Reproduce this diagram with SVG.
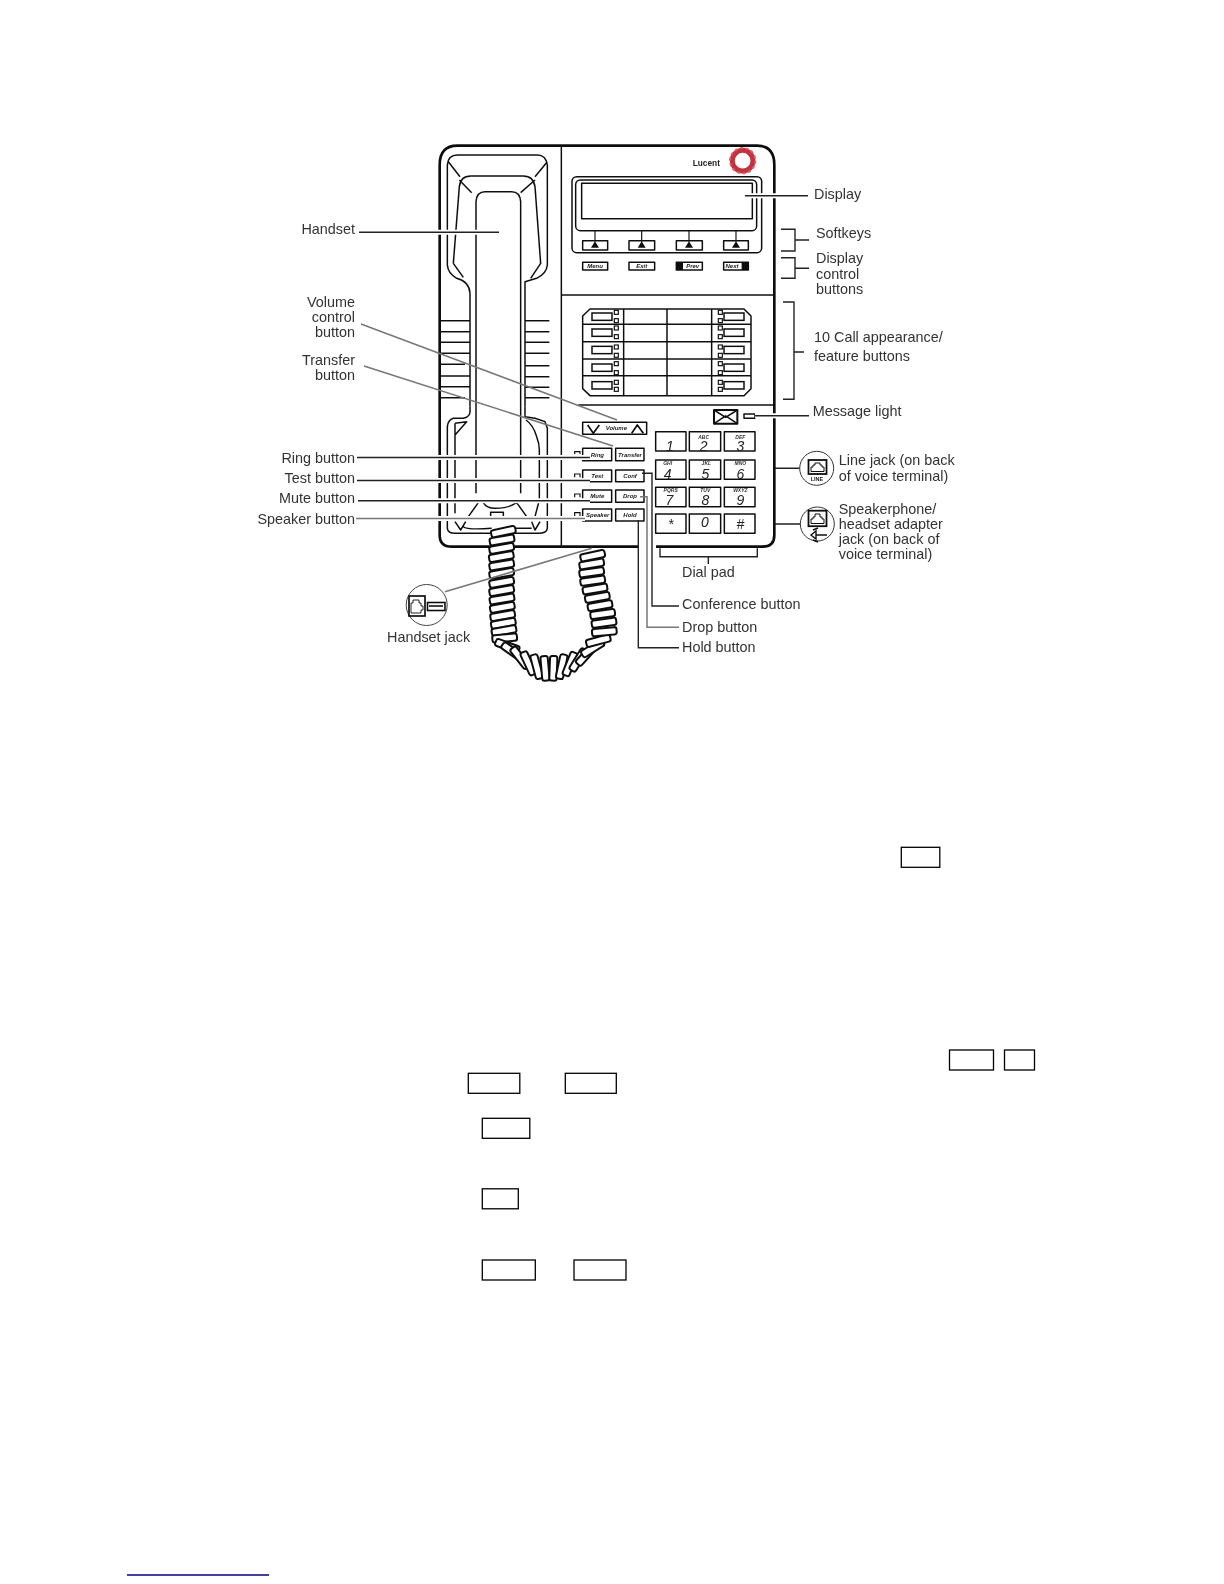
<svg xmlns="http://www.w3.org/2000/svg" width="1224" height="1584" viewBox="0 0 1224 1584">
<style>
.p{fill:none;stroke:#111;stroke-width:4.5;stroke-linejoin:round}
.t{fill:#fff;stroke:#111;stroke-width:4.5}
.s{fill:none;stroke:#111;stroke-width:3.5}
.w{fill:none;stroke:#111;stroke-width:8}
.k{fill:#111;stroke:none}
.btn{font:italic bold 18px "Liberation Sans",Arial,sans-serif;fill:#222;text-anchor:middle}
.dig{font:italic 42px "Liberation Sans",Arial,sans-serif;fill:#222;text-anchor:middle}
.alp{font:italic bold 15px "Liberation Sans",Arial,sans-serif;fill:#333;text-anchor:middle}
.l{font:14.4px "Liberation Sans",Arial,sans-serif;fill:#333}
.e{text-anchor:end}
.ld{fill:none;stroke:#222;stroke-width:1.4}
.lg{fill:none;stroke:#777;stroke-width:1.5}
.h{fill:none;stroke:#fff;stroke-width:5}
.box{fill:#fff;stroke:#000;stroke-width:1.3}
</style>
<defs>
<filter id="soft" filterUnits="userSpaceOnUse" x="0" y="0" width="1224" height="800"><feGaussianBlur stdDeviation="0.4"/></filter>
<rect id="r" x="-37" y="-11" width="74" height="22" rx="7" fill="#fff" stroke="#111" stroke-width="6"/>
<rect id="sq" class="s" x="0" y="0" width="12" height="12"/>
</defs>
<rect width="1224" height="1584" fill="#fff"/>
<g filter="url(#soft)">
<g id="phone" transform="translate(420 130) scale(.33333)">
<g id="body">
<path class="w" d="M59,105Q59,47 112,47H1012Q1063,47 1063,105V1215Q1063,1250 1028,1250H95Q59,1250 59,1215Z"/>
<path class="p" d="M424,47V1250M424,495H1060M475,825H1060"/>
</g>
<g id="handset">
<path class="p" d="M82,105Q84,75 112,75H352Q378,75 382,105V405Q380,430 350,445L315,455V830M82,105V405Q84,430 110,445Q148,455 150,490V830M85,95L120,140M382,95L345,140"/>
<path class="p" d="M100,400L118,170Q122,138 152,138H310Q340,138 345,170L362,400L332,445M100,400L130,442M118,150L155,188M345,150L302,188"/>
<path class="p" d="M168,1090V215Q170,185 195,185H275Q300,185 302,215V1090"/>
<path class="p" d="M60,572H150M60,605H150M60,637H150M60,670H150M60,703H135M60,738H150M60,770H150M60,803H135M315,572H388M315,605H388M315,637H388M315,670H388M315,707H388M315,740H388M315,772H388M315,803H388"/>
<path class="p" d="M150,830V845Q150,860 130,865H100Q84,870 82,890V1195Q84,1210 105,1210H210M105,915L140,875M105,880V1150M105,880L140,875L105,915"/>
<path class="p" d="M315,830V860Q345,862 375,875L382,895V1195Q380,1210 355,1210H250M318,870Q340,885 350,920Q358,940 358,960V1110L345,1160"/>
<path class="p" d="M105,1175L122,1200L137,1175M360,1175L345,1200L335,1175M145,1160L175,1118M290,1118L320,1160M190,1118Q200,1135 225,1135Q265,1135 290,1118M130,1190Q140,1200 215,1195M250,1195H335"/>
<path class="p" d="M212,1160V1147H250V1160"/>
</g>
<g id="logo">
<text x="818" y="109" style="font:bold 25px 'Liberation Sans',Arial,sans-serif;fill:#222">Lucent</text>
<circle cx="968" cy="92" r="31" fill="none" stroke="#c5303e" stroke-width="15"/>
<circle cx="968" cy="92" r="38" fill="none" stroke="#d8606a" stroke-width="6" stroke-dasharray="9 8"/>
</g>
<g id="display">
<rect class="p" x="456" y="140" width="569" height="228" rx="14"/>
<rect class="p" x="467" y="150" width="543" height="152" rx="14"/>
<rect class="p" x="485" y="160" width="512" height="106"/>
<path class="s" d="M525,302V335M665,302V335M807,302V335M948,302V335"/>
<rect class="p" x="488" y="332" width="75" height="28"/><rect class="p" x="627" y="332" width="77" height="28"/><rect class="p" x="769" y="332" width="78" height="28"/><rect class="p" x="911" y="332" width="74" height="28"/>
<path class="k" d="M525,334L537,353H513ZM665,334L677,353H653ZM807,334L819,353H795ZM948,334L960,353H936Z"/>
<rect class="p" x="488" y="397" width="75" height="23"/><rect class="p" x="627" y="397" width="77" height="23"/><rect class="p" x="769" y="397" width="78" height="23"/><rect class="p" x="911" y="397" width="74" height="23"/>
<rect class="k" x="769" y="397" width="20" height="23"/><rect class="k" x="965" y="397" width="20" height="23"/>
<text class="btn" x="525" y="414">Menu</text><text class="btn" x="665" y="414">Exit</text><text class="btn" x="818" y="414">Prev</text><text class="btn" x="936" y="414">Next</text>
</g>
<g id="call-buttons">
<path class="p" d="M510,537H972L993,558V776L972,797H510L488,776V558ZM488,583H993M488,635H993M488,687H993M488,737H993M611,537V797M741,537V797M875,537V797"/>
<rect class="t" x="516" y="549" width="60" height="22"/><rect class="t" x="516" y="597" width="60" height="22"/><rect class="t" x="516" y="649" width="60" height="22"/><rect class="t" x="516" y="702" width="60" height="22"/><rect class="t" x="516" y="755" width="60" height="22"/>
<rect class="t" x="912" y="549" width="60" height="22"/><rect class="t" x="912" y="597" width="60" height="22"/><rect class="t" x="912" y="649" width="60" height="22"/><rect class="t" x="912" y="702" width="60" height="22"/><rect class="t" x="912" y="755" width="60" height="22"/>
<use href="#sq" x="583" y="541"/><use href="#sq" x="583" y="566"/><use href="#sq" x="583" y="588"/><use href="#sq" x="583" y="614"/><use href="#sq" x="583" y="645"/><use href="#sq" x="583" y="670"/><use href="#sq" x="583" y="695"/><use href="#sq" x="583" y="722"/><use href="#sq" x="583" y="751"/><use href="#sq" x="583" y="772"/>
<use href="#sq" x="895" y="541"/><use href="#sq" x="895" y="566"/><use href="#sq" x="895" y="588"/><use href="#sq" x="895" y="614"/><use href="#sq" x="895" y="645"/><use href="#sq" x="895" y="670"/><use href="#sq" x="895" y="695"/><use href="#sq" x="895" y="722"/><use href="#sq" x="895" y="751"/><use href="#sq" x="895" y="772"/>
</g>
<g id="message-light">
<rect class="p" x="882" y="840" width="70" height="41" style="stroke-width:6"/>
<path class="p" d="M882,840L917,862L952,840M882,881L917,858L952,881"/>
<rect class="p" x="972" y="852" width="33" height="13"/>
</g>
<g id="feature-buttons">
<rect class="p" x="488" y="877" width="192" height="36"/>
<path class="p" d="M503,885L520,910L538,885M635,910L652,885L670,910" style="stroke-width:5"/>
<text class="btn" x="589" y="901">Volume</text>
<rect class="p" x="488" y="955" width="87" height="37"/><text class="btn" x="532" y="981">Ring</text>
<rect class="p" x="587" y="955" width="85" height="37"/><text class="btn" x="630" y="981">Transfer</text>
<rect class="p" x="488" y="1020" width="87" height="35"/><text class="btn" x="532" y="1045">Test</text>
<rect class="p" x="587" y="1020" width="85" height="35"/><text class="btn" x="630" y="1045">Conf</text>
<rect class="p" x="488" y="1080" width="87" height="37"/><text class="btn" x="532" y="1105">Mute</text>
<rect class="p" x="587" y="1080" width="85" height="37"/><text class="btn" x="630" y="1105">Drop</text>
<rect class="p" x="488" y="1137" width="87" height="36"/><text class="btn" x="533" y="1161">Speaker</text>
<rect class="p" x="587" y="1137" width="85" height="36"/><text class="btn" x="630" y="1161">Hold</text>
<path class="s" d="M464,972V965H480V972M464,1042V1032H480V1042M464,1102V1092H480V1102M464,1158V1148H480V1158"/>
</g>
<g id="dial-pad">
<rect class="p" x="707" y="905" width="91" height="58"/><rect class="p" x="808" y="905" width="94" height="58"/><rect class="p" x="913" y="905" width="92" height="58"/>
<rect class="p" x="707" y="990" width="91" height="58"/><rect class="p" x="808" y="990" width="94" height="58"/><rect class="p" x="913" y="990" width="92" height="58"/>
<rect class="p" x="707" y="1072" width="91" height="58"/><rect class="p" x="808" y="1072" width="94" height="58"/><rect class="p" x="913" y="1072" width="92" height="58"/>
<rect class="p" x="707" y="1152" width="91" height="58"/><rect class="p" x="808" y="1152" width="94" height="58"/><rect class="p" x="913" y="1152" width="92" height="58"/>
<text class="dig" x="750" y="963">1</text><text class="dig" x="851" y="963">2</text><text class="dig" x="961" y="963">3</text>
<text class="dig" x="743" y="1047">4</text><text class="dig" x="856" y="1047">5</text><text class="dig" x="961" y="1047">6</text>
<text class="dig" x="748" y="1124">7</text><text class="dig" x="856" y="1124">8</text><text class="dig" x="961" y="1124">9</text>
<text class="dig" x="752" y="1196">*</text><text class="dig" x="855" y="1192">0</text><text class="dig" x="961" y="1196">#</text>
<text class="alp" x="851" y="927">ABC</text><text class="alp" x="961" y="927">DEF</text>
<text class="alp" x="743" y="1005">GHI</text><text class="alp" x="859" y="1005">JKL</text><text class="alp" x="961" y="1005">MNO</text>
<text class="alp" x="752" y="1086">PQRS</text><text class="alp" x="856" y="1086">TUV</text><text class="alp" x="961" y="1086">WXYZ</text>
</g>
</g>
<g id="cord" transform="translate(420 390) scale(.33333)">
<use href="#r" transform="translate(250 425) rotate(-12)"/><use href="#r" transform="translate(246 450) rotate(-10)"/><use href="#r" transform="translate(245 475) rotate(-10)"/><use href="#r" transform="translate(244 500) rotate(-10)"/><use href="#r" transform="translate(245 525) rotate(-10)"/><use href="#r" transform="translate(245 550) rotate(-10)"/><use href="#r" transform="translate(245 577) rotate(-10)"/><use href="#r" transform="translate(245 602) rotate(-10)"/><use href="#r" transform="translate(246 627) rotate(-10)"/><use href="#r" transform="translate(247 652) rotate(-10)"/><use href="#r" transform="translate(248 677) rotate(-10)"/><use href="#r" transform="translate(250 700) rotate(-10)"/><use href="#r" transform="translate(252 722) rotate(-10)"/><use href="#r" transform="translate(254 744) rotate(-5)"/>
<use href="#r" transform="translate(262 768) rotate(20)"/><use href="#r" transform="translate(278 785) rotate(35)"/><use href="#r" transform="translate(300 803) rotate(52)"/><use href="#r" transform="translate(325 820) rotate(65)"/><use href="#r" transform="translate(350 830) rotate(75)"/><use href="#r" transform="translate(375 835) rotate(85)"/><use href="#r" transform="translate(400 835) rotate(-88)"/><use href="#r" transform="translate(425 830) rotate(-78)"/><use href="#r" transform="translate(450 822) rotate(-68)"/><use href="#r" transform="translate(475 810) rotate(-58)"/><use href="#r" transform="translate(498 795) rotate(-48)"/><use href="#r" transform="translate(518 775) rotate(-32)"/><use href="#r" transform="translate(535 752) rotate(-15)"/>
<use href="#r" transform="translate(553 725) rotate(-5)"/><use href="#r" transform="translate(552 698) rotate(-8)"/><use href="#r" transform="translate(548 672) rotate(-8)"/><use href="#r" transform="translate(540 647) rotate(-10)"/><use href="#r" transform="translate(532 622) rotate(-10)"/><use href="#r" transform="translate(525 597) rotate(-10)"/><use href="#r" transform="translate(518 572) rotate(-8)"/><use href="#r" transform="translate(515 547) rotate(-8)"/><use href="#r" transform="translate(515 522) rotate(-10)"/><use href="#r" transform="translate(518 497) rotate(-12)"/>
</g>
<g id="connectors">
<path class="h" d="M359,232.3H499M745,195.7H808M755,415.7H809M357,457.5H590M357,480.5H590M358,500.8H590M356,518.5H585M638,547H656"/>
<path class="ld" d="M359,232.3H499"/>
<path class="lg" d="M361,324L617,420M364,366L613,446"/>
<path class="ld" d="M357,457.5H590M357,480.5H590M358,500.8H590"/>
<path class="lg" d="M356,518.5H585"/>
<path class="ld" d="M745,195.7H808M755,415.7H809M775,468.3H800M775,524H800"/>
<path class="ld" d="M781,229.3H795V251H781M795,240H809M781,257.7H795V278.3H781M795,268.3H809M783,302H794V399.3H783M794,352H804"/>
<path class="ld" d="M660,548.3V556.7H757.3V548.3M708.3,556.7V564"/>
<path class="ld" d="M642,473.3H652V606H679"/>
<path class="lg" d="M640,496.7H647V627.3H679"/>
<path class="ld" d="M638.3,520V647.7H679"/>
<path class="lg" d="M445,591.7L591.7,548.3"/>
</g>
<g id="jacks">
<g id="line-jack">
<circle cx="816.7" cy="468.3" r="17" fill="#fff" stroke="#333" stroke-width="1"/>
<rect x="808.5" y="460" width="18" height="14" fill="none" stroke="#111" stroke-width="1.8"/>
<path d="M811,471.5V467H813V465H815V463H820V465H822V467H824V471.5Z" fill="none" stroke="#111" stroke-width="1"/>
<text x="817" y="481" text-anchor="middle" style="font:bold 5.5px 'Liberation Sans',Arial,sans-serif;fill:#222">LINE</text>
</g>
<g id="speaker-jack">
<circle cx="817.3" cy="524" r="17" fill="#fff" stroke="#333" stroke-width="1"/>
<rect x="808.5" y="510.7" width="18" height="15.5" fill="none" stroke="#111" stroke-width="1.8"/>
<path d="M811,523.5V519H813V517H815V514H820V517H822V519H824V523.5Z" fill="none" stroke="#111" stroke-width="1"/>
<path d="M811,535L816,531V539ZM816,535H827M813,530L818,528M813,540L818,542" fill="none" stroke="#111" stroke-width="1.4"/>
</g>
<g id="handset-jack">
<circle cx="426.7" cy="605" r="20.5" fill="#fff" stroke="#444" stroke-width="1"/>
<rect x="409" y="596" width="16" height="20" fill="none" stroke="#111" stroke-width="1.7"/>
<path d="M411,613V603H413V600H419V603H421V606H423V610H421V613Z" fill="none" stroke="#111" stroke-width=".9"/>
<rect x="427.5" y="602.5" width="17.5" height="8" fill="none" stroke="#111" stroke-width="1.6"/>
<path d="M429,606H443" stroke="#111" stroke-width="1.6"/>
</g>
</g>
<g id="labels">
<text class="l e" x="355" y="234">Handset</text>
<text class="l e" x="355" y="306.7">Volume</text><text class="l e" x="355" y="321.7">control</text><text class="l e" x="355" y="336.7">button</text>
<text class="l e" x="355" y="365.3">Transfer</text><text class="l e" x="355" y="380">button</text>
<text class="l e" x="355" y="462.7">Ring button</text><text class="l e" x="355" y="482.7">Test button</text><text class="l e" x="355" y="502.7">Mute button</text><text class="l e" x="355" y="524.3">Speaker button</text>
<text class="l" x="814" y="199.3">Display</text>
<text class="l" x="816" y="237.7">Softkeys</text>
<text class="l" x="816" y="263.3">Display</text><text class="l" x="816" y="279">control</text><text class="l" x="816" y="294">buttons</text>
<text class="l" x="814" y="341.7">10 Call appearance/</text><text class="l" x="814" y="360.7">feature buttons</text>
<text class="l" x="812.7" y="416">Message light</text>
<text class="l" x="838.7" y="464.7">Line jack (on back</text><text class="l" x="838.7" y="480.7">of voice terminal)</text>
<text class="l" x="838.7" y="514">Speakerphone/</text><text class="l" x="838.7" y="528.7">headset adapter</text><text class="l" x="838.7" y="543.7">jack (on back of</text><text class="l" x="838.7" y="559.3">voice terminal)</text>
<text class="l" x="682" y="576.7">Dial pad</text>
<text class="l" x="682" y="609.3">Conference button</text><text class="l" x="682" y="632.3">Drop button</text><text class="l" x="682" y="651.7">Hold button</text>
<text class="l" x="387" y="641.7">Handset jack</text>
</g>
</g>
<g id="page-boxes">
<rect class="box" x="901.3" y="847.3" width="38.5" height="20"/>
<rect class="box" x="949.5" y="1050" width="44" height="20"/>
<rect class="box" x="1004.5" y="1050" width="30" height="20"/>
<rect class="box" x="468.3" y="1073.3" width="51.5" height="20"/>
<rect class="box" x="565.3" y="1073.3" width="51" height="20"/>
<rect class="box" x="482.3" y="1118.3" width="47.5" height="20"/>
<rect class="box" x="482.3" y="1188.8" width="36" height="20"/>
<rect class="box" x="482.3" y="1260" width="53" height="20"/>
<rect class="box" x="574" y="1260" width="52" height="20"/>
<path d="M127,1575H269" stroke="#000080" stroke-width="1.5"/>
</g>
</svg>
